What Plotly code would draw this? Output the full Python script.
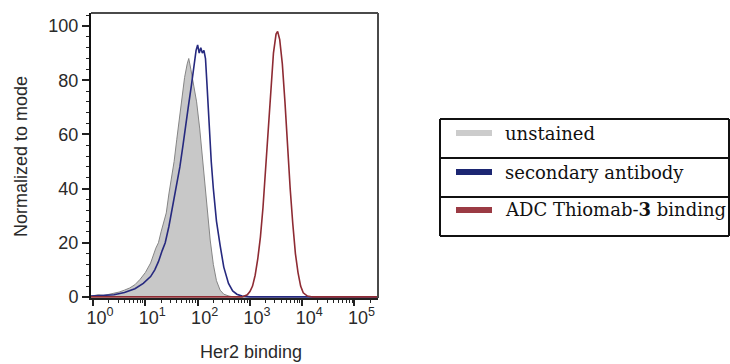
import numpy as np
import plotly.graph_objects as go

# ---- data (x stored as log10 of Her2 binding intensity) ----
series_names = ["unstained", "secondary antibody", "ADC Thiomab-<b>3</b> binding"]

unstained_log10 = [-0.04, 0.1, 0.2, 0.3, 0.4, 0.5, 0.6, 0.7, 0.8, 0.9, 1.0, 1.1, 1.2, 1.25, 1.3,
                   1.4, 1.45, 1.5, 1.55, 1.6, 1.65, 1.7, 1.75, 1.8, 1.83, 1.87, 1.92, 1.98, 2.04,
                   2.1, 2.17, 2.24, 2.3, 2.36, 2.43, 2.5, 2.6, 2.7, 5.45]
unstained_mode = [0.3, 0.8, 0.5, 0.9, 1.2, 1.8, 2.5, 3.3, 4.5, 6.5, 9, 12.5, 18, 20, 24,
                  31, 38, 44, 50, 58, 66, 74, 81, 86, 88, 84, 79, 72, 62,
                  49, 35, 21, 12, 6, 2.5, 1, 0.3, 0, 0]

secondary_log10 = [-0.04, 0.2, 0.4, 0.6, 0.8, 0.96, 1.1, 1.18, 1.25, 1.32, 1.38, 1.45, 1.52, 1.59,
                   1.66, 1.72, 1.76, 1.82, 1.88, 1.93, 1.97, 2.0, 2.03, 2.06, 2.09, 2.12, 2.15,
                   2.18, 2.22, 2.26, 2.3, 2.36, 2.43, 2.5, 2.59, 2.67, 2.75, 2.85, 3.0, 5.45]
secondary_mode = [0.3, 0.5, 0.8, 1.6, 3, 5, 7.5, 10, 13, 17, 20, 26, 33, 40,
                  48, 56, 61, 70, 78, 86, 91, 93, 90, 92, 90, 91, 88,
                  78, 62, 50, 40, 28, 19, 11, 5, 2.2, 1, 0.3, 0, 0]

adc_log10 = [-0.04, 2.85, 2.95, 3.0, 3.05, 3.1, 3.15, 3.2, 3.25, 3.3, 3.35, 3.4, 3.45, 3.5, 3.53,
             3.57, 3.62, 3.67, 3.72, 3.77, 3.82, 3.87, 3.92, 3.97, 4.02, 4.1, 4.2, 5.45]
adc_mode = [0, 0, 0.8, 2, 4, 8, 14, 22, 33, 47, 62, 77, 90, 97, 98,
            95, 86, 72, 55, 40, 27, 16, 9, 4, 1.5, 0.3, 0, 0]

x_tick_exponents = [0, 1, 2, 3, 4, 5]
y_tick_values = [0, 20, 40, 60, 80, 100]

x_title = "Her2 binding"
y_title = "Normalized to mode"

# ---- styling ----
W, H = 730, 364
L, R, T, B = 91, 378, 13, 298  # plot area in pixels

def px(x):
    return (x - L) / (R - L)

def py(y):
    return (B - y) / (B - T)

fig = go.Figure()
fig.add_trace(go.Scatter(x=10 ** np.array(unstained_log10), y=unstained_mode, mode="lines",
                         fill="tozeroy", fillcolor="#c8c8c8",
                         line=dict(color="#858585", width=1), name=series_names[0],
                         showlegend=False))
fig.add_trace(go.Scatter(x=10 ** np.array(secondary_log10), y=secondary_mode, mode="lines",
                         line=dict(color="#26297f", width=1.6), name=series_names[1],
                         showlegend=False))
fig.add_trace(go.Scatter(x=10 ** np.array(adc_log10), y=adc_mode, mode="lines",
                         line=dict(color="#8e2b33", width=1.6), name=series_names[2],
                         showlegend=False))

tick_font = dict(family="Liberation Sans, Arial, sans-serif", size=18, color="#2a2a2a")

fig.update_xaxes(type="log", range=[-0.04, 5.45],
                 tickvals=[10 ** e for e in x_tick_exponents],
                 ticktext=[f"10<sup>{e}</sup>" for e in x_tick_exponents],
                 ticks="outside", ticklen=6, tickwidth=1.5, tickcolor="#222",
                 minor=dict(ticks="outside", ticklen=3, tickwidth=1.2, tickcolor="#222",
                            dtick="D1", showgrid=False),
                 showline=True, linecolor="#222", linewidth=2,
                 showgrid=False, zeroline=False, tickfont=tick_font,
                 ticklabelshift=7, ticklabelstandoff=-4)
fig.update_yaxes(range=[-0.4, 104.8], tickvals=y_tick_values,
                 ticks="outside", ticklen=7, tickwidth=1.5, tickcolor="#222",
                 minor=dict(ticks="outside", ticklen=3, tickwidth=1.2, tickcolor="#222",
                            dtick=4, showgrid=False),
                 showline=True, linecolor="#111", linewidth=2,
                 showgrid=False, zeroline=False, tickfont=tick_font)

shapes = [
    # top and right frame of plot box
    dict(type="line", xref="paper", yref="paper", x0=0, x1=1, y0=1, y1=1,
         line=dict(color="#4a4a4a", width=2)),
    dict(type="line", xref="paper", yref="paper", x0=1, x1=1, y0=0, y1=1,
         line=dict(color="#4a4a4a", width=2)),
]

# legend table
leg_left, leg_right = 440, 729
row_edges = [119, 158, 197, 236]
for yy in row_edges:
    shapes.append(dict(type="line", xref="paper", yref="paper", x0=px(leg_left), x1=px(leg_right),
                       y0=py(yy), y1=py(yy), line=dict(color="#111", width=2)))
for xx in (leg_left, leg_right):
    shapes.append(dict(type="line", xref="paper", yref="paper", x0=px(xx), x1=px(xx),
                       y0=py(row_edges[0]), y1=py(row_edges[-1]), line=dict(color="#111", width=2)))

swatch_colors = ["#cccccc", "#1c2672", "#9b3b44"]
row_centers = [133, 172, 210]
annotations = []
for name, col, yc in zip(series_names, swatch_colors, row_centers):
    shapes.append(dict(type="rect", xref="paper", yref="paper", x0=px(456), x1=px(492),
                       y0=py(yc + 3), y1=py(yc - 3), fillcolor=col, line=dict(width=0)))
    annotations.append(dict(xref="paper", yref="paper", x=px(503), y=py(yc), text=name,
                            showarrow=False, xanchor="left", yanchor="middle",
                            font=dict(family="DejaVu Serif, serif", size=18, color="#111")))

annotations.append(dict(xref="paper", yref="paper", x=px(251), y=py(352), text=x_title,
                        showarrow=False, xanchor="center", yanchor="middle",
                        font=dict(family="Liberation Sans, Arial, sans-serif", size=18, color="#2a2a2a")))
annotations.append(dict(xref="paper", yref="paper", x=px(21), y=py(157), text=y_title,
                        showarrow=False, textangle=-90, xanchor="center", yanchor="middle",
                        font=dict(family="Liberation Sans, Arial, sans-serif", size=18, color="#2a2a2a")))

fig.update_layout(width=W, height=H, margin=dict(l=L, r=W - R, t=T, b=H - B, pad=0),
                  paper_bgcolor="white", plot_bgcolor="white",
                  shapes=shapes, annotations=annotations, showlegend=False)

fig.write_html("out.html", config={"displayModeBar": False},
               post_script="document.body.style.margin='0';document.body.style.overflow='hidden';")
